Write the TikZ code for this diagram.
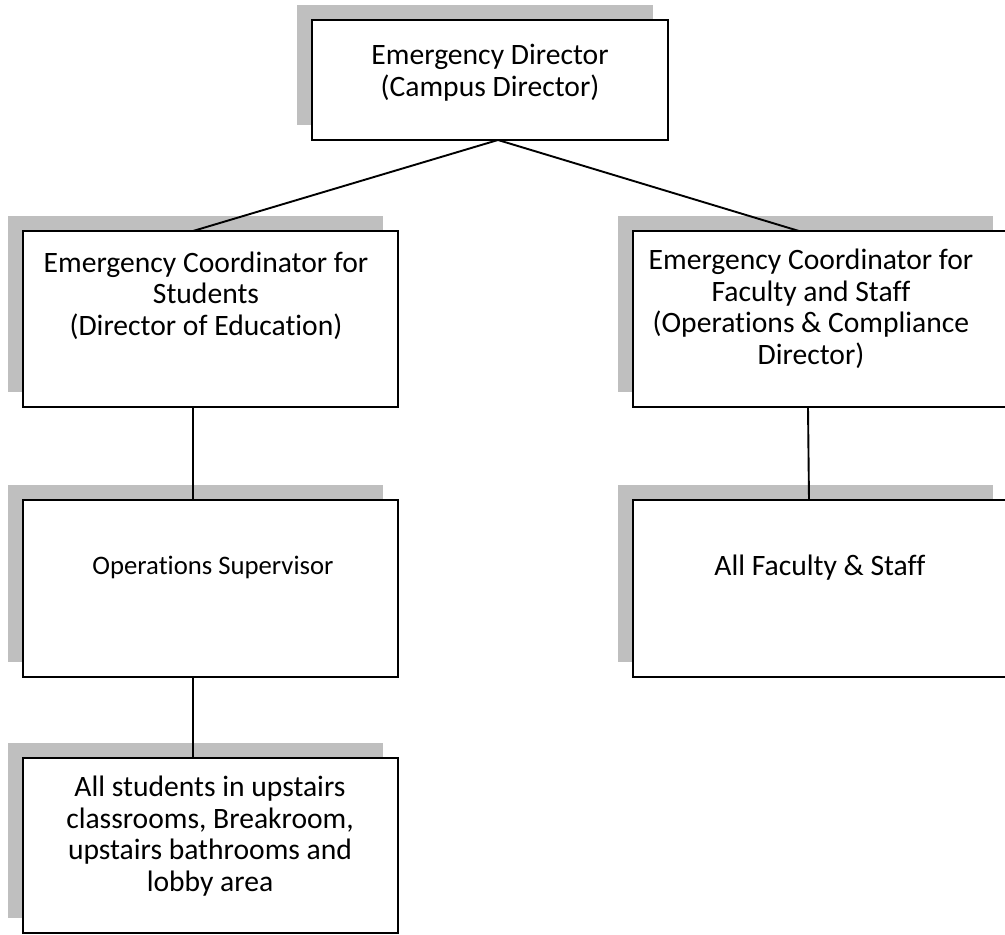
\documentclass[tikz,border=0pt]{standalone}
\usepackage{fontspec}
\setmainfont{Carlito}[Ligatures={NoCommon}]
\usetikzlibrary{shadows}
\definecolor{shadowgray}{RGB}{191,191,191}
\begin{document}
\begin{tikzpicture}[x=1pt,y=-1pt,
  box/.style={draw=black, line width=1.9pt, fill=white, rectangle, inner sep=0pt, outer sep=0pt,
    anchor=north west,
    general shadow={fill=shadowgray, draw=none, shadow xshift=-15pt, shadow yshift=15pt}},
  conn/.style={draw=black, line width=1.9pt},
  txt/.style={anchor=base, align=center, inner sep=0pt, font=\fontsize{29.6}{31.5}\selectfont},
  txtsmall/.style={txt, font=\fontsize{26.7}{31.5}\selectfont}]
\useasboundingbox (0,0) rectangle (1005,935);
% connector end points
\coordinate (ct) at (498,140);
\coordinate (cl2t) at (193,231);
\coordinate (cr2t) at (799,231);
\coordinate (cl2b) at (193,407);
\coordinate (cl3t) at (193,500);
\coordinate (cr2b) at (808,407);
\coordinate (cr3t) at (809,500);
\coordinate (cl3b) at (193,677);
\coordinate (cl4t) at (193,758);
% boxes
\node[box, minimum width=356pt, minimum height=120pt] (top) at (312,20) {};
\node[box, minimum width=375pt, minimum height=176pt] (L2) at (23,231) {};
\node[box, minimum width=375pt, minimum height=176pt] (R2) at (633,231) {};
\node[box, minimum width=375pt, minimum height=177pt] (L3) at (23,500) {};
\node[box, minimum width=375pt, minimum height=177pt] (R3) at (633,500) {};
\node[box, minimum width=375pt, minimum height=175pt] (L4) at (23,758) {};
% connectors
\draw[conn] (ct) -- (cl2t);
\draw[conn] (ct) -- (cr2t);
\draw[conn] (cl2b) -- (cl3t);
\draw[conn] (cr2b) -- (cr3t);
\draw[conn] (cl3b) -- (cl4t);
% texts (anchored at the baseline of the last line)
\node[txt] (ttop) at (490,96) {Emergency Director\\(Campus Director)};
\node[txt] (tl2) at (206,335) {Emergency Coordinator for\\Students\\(Director of Education)};
\node[txt] (tr2) at (811,364) {Emergency Coordinator for\\Faculty and Staff\\(Operations \& Compliance\\Director)};
\node[txtsmall] (tl3) at (213,574) {Operations Supervisor};
\node[txt] (tr3) at (820,575) {All Faculty \& Staff};
\node[txt] (tl4) at (210,891) {All students in upstairs\\classrooms, Breakroom,\\upstairs bathrooms and\\lobby area};
\end{tikzpicture}
\end{document}
